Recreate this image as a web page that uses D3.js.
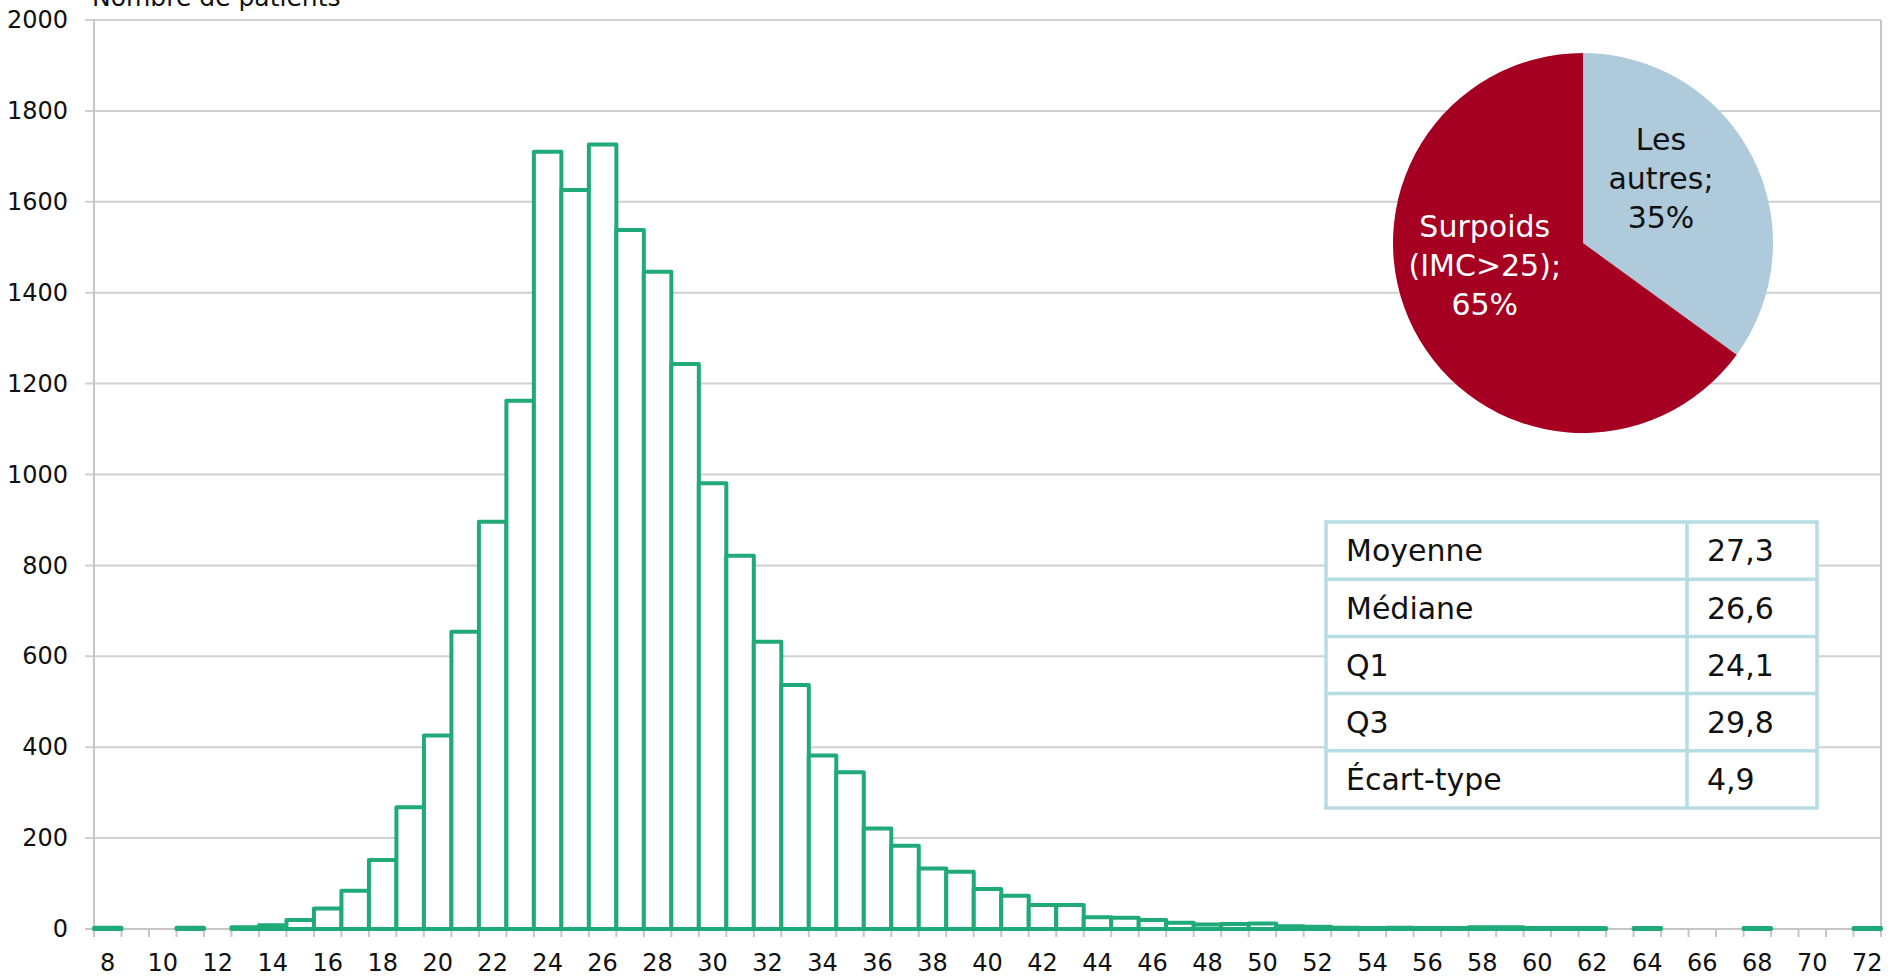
<!DOCTYPE html>
<html>
<head>
<meta charset="utf-8">
<script src="https://cdn.jsdelivr.net/npm/d3@7"></script>
<style>
  html, body { margin: 0; padding: 0; background: #ffffff; }
  svg { display: block; font-family: "DejaVu Sans", sans-serif; }
</style>
</head>
<body>
<svg id="chart" width="1896" height="977"></svg>
<script>
// ---------------- DATA ----------------
const categories = d3.range(8, 73); // IMC classes 8..72
const patientCounts = [
  3, 0, 0, 3, 0, 4, 8, 20, 45, 84,          // 8-17
  152, 268, 426, 654, 896, 1162, 1710, 1626, 1726, 1538, // 18-27
  1446, 1243, 981, 821, 632, 537, 382, 345, 221, 183,    // 28-37
  133, 126, 88, 73, 53, 53, 26, 25, 20, 14,              // 38-47
  10, 11, 12, 6, 5, 3, 2, 3, 2, 2,                       // 48-57
  4, 4, 2, 2, 2, 0, 2, 0, 0, 0,                          // 58-67
  2, 0, 0, 0, 2                                          // 68-72
];
const xTickLabels = d3.range(8, 73, 2);
const yTickValues = d3.range(0, 2001, 200);
const yAxisTitle = "Nombre de patients";

const pieLabelLines = [["Les", "autres;", "35%"], ["Surpoids", "(IMC>25);", "65%"]];
const pieValues = [35, 65];
const pieColors = ["#aecadb", "#a50021"];
const pieTextColors = ["#111111", "#ffffff"];

const statLabels = ["Moyenne", "Médiane", "Q1", "Q3", "Écart-type"];
const statValues = ["27,3", "26,6", "24,1", "29,8", "4,9"];

// ---------------- LAYOUT ----------------
const svg = d3.select("#chart");
const plot = { left: 94, right: 1881, top: 20, bottom: 929 };
const green = "#1faa78";
const gridColor = "#d0d0d0";
const axisColor = "#c6c6c6";
const tickFont = 24;

const x = d3.scaleBand().domain(categories).range([plot.left, plot.right]).padding(0);
const y = d3.scaleLinear().domain([0, 2000]).range([plot.bottom, plot.top]);

// gridlines
svg.append("g").selectAll("line")
  .data(yTickValues.filter(v => v > 0))
  .join("line")
  .attr("x1", plot.left - 9).attr("x2", plot.right)
  .attr("y1", d => y(d)).attr("y2", d => y(d))
  .attr("stroke", gridColor).attr("stroke-width", 2);

// left and right vertical lines
svg.append("line").attr("x1", plot.left).attr("x2", plot.left)
  .attr("y1", plot.top).attr("y2", plot.bottom + 8)
  .attr("stroke", axisColor).attr("stroke-width", 2);
svg.append("line").attr("x1", plot.right).attr("x2", plot.right)
  .attr("y1", plot.top).attr("y2", plot.bottom + 8)
  .attr("stroke", axisColor).attr("stroke-width", 2);

// x axis baseline
svg.append("line").attr("x1", plot.left - 9).attr("x2", plot.right)
  .attr("y1", y(0)).attr("y2", y(0))
  .attr("stroke", axisColor).attr("stroke-width", 2);

// category boundary ticks
const boundaries = categories.map(c => x(c)).concat([plot.right]);
svg.append("g").selectAll("line")
  .data(boundaries)
  .join("line")
  .attr("x1", d => d).attr("x2", d => d)
  .attr("y1", y(0)).attr("y2", y(0) + 8)
  .attr("stroke", axisColor).attr("stroke-width", 2);

// x tick labels
const xAxis = d3.axisBottom(x).tickValues(xTickLabels).tickSize(0).tickPadding(25);
const gx = svg.append("g").attr("transform", `translate(0,${y(0)})`).call(xAxis);
gx.select(".domain").remove();
gx.selectAll("text").attr("font-size", tickFont).attr("fill", "#111")
  .attr("font-family", "DejaVu Sans, sans-serif");

// y tick labels
const yAxis = d3.axisLeft(y).tickValues(yTickValues).tickFormat(d3.format("d"))
  .tickSize(0).tickPadding(26);
const gy = svg.append("g").attr("transform", `translate(${plot.left},0)`).call(yAxis);
gy.select(".domain").remove();
gy.selectAll("text").attr("font-size", tickFont).attr("fill", "#111")
  .attr("font-family", "DejaVu Sans, sans-serif");

// axis title (partly outside the top edge, as in the reference)
svg.append("text").attr("x", 92).attr("y", 6)
  .attr("font-size", 25).attr("fill", "#111").text(yAxisTitle);

// bars
const barData = categories.map((c, i) => ({ c, v: patientCounts[i] })).filter(d => d.v > 0);
svg.append("g").selectAll("rect")
  .data(barData)
  .join("rect")
  .attr("x", d => x(d.c))
  .attr("y", d => y(d.v))
  .attr("width", x.bandwidth())
  .attr("height", d => y(0) - y(d.v))
  .attr("fill", "#ffffff")
  .attr("stroke", green)
  .attr("stroke-width", 4)
  .attr("stroke-linejoin", "round");

// ---------------- PIE ----------------
const pieCenter = { x: 1583, y: 243 };
const pieR = 190;
const pie = d3.pie().sort(null).value(d => d)(pieValues);
const arc = d3.arc().innerRadius(0).outerRadius(pieR);
const gPie = svg.append("g").attr("transform", `translate(${pieCenter.x},${pieCenter.y})`);
gPie.selectAll("path").data(pie).join("path")
  .attr("d", arc).attr("fill", (d, i) => pieColors[i]);

const labelRadii = [0.534, 0.53];
const labelAngleShift = [-0.223, 0.25];
const lineH = 39;
pie.forEach((p, i) => {
  const a = (p.startAngle + p.endAngle) / 2 + labelAngleShift[i];
  const r = pieR * labelRadii[i];
  const cx = Math.sin(a) * r, cy = -Math.cos(a) * r;
  const lines = pieLabelLines[i];
  const t = gPie.append("text")
    .attr("text-anchor", "middle")
    .attr("font-size", 30)
    .attr("fill", pieTextColors[i]);
  lines.forEach((ln, k) => {
    t.append("tspan").attr("x", cx)
      .attr("y", cy + (k - (lines.length - 1) / 2) * lineH)
      .attr("dy", "0.35em").text(ln);
  });
});

// ---------------- TABLE ----------------
const tbl = { x: 1326, y: 522, w: 491, rowH: 57.2, col1: 361 };
const tblColor = "#b5dde2";
const gT = svg.append("g");
gT.append("rect").attr("x", tbl.x).attr("y", tbl.y)
  .attr("width", tbl.w).attr("height", tbl.rowH * statLabels.length)
  .attr("fill", "#ffffff").attr("stroke", tblColor).attr("stroke-width", 3.5);
statLabels.forEach((lab, i) => {
  const ry = tbl.y + i * tbl.rowH;
  if (i > 0) {
    gT.append("line").attr("x1", tbl.x).attr("x2", tbl.x + tbl.w)
      .attr("y1", ry).attr("y2", ry)
      .attr("stroke", tblColor).attr("stroke-width", 3.5);
  }
  gT.append("text").attr("x", tbl.x + 20).attr("y", ry + tbl.rowH / 2)
    .attr("dy", "0.36em").attr("font-size", 30).attr("fill", "#111").text(lab);
  gT.append("text").attr("x", tbl.x + tbl.col1 + 20).attr("y", ry + tbl.rowH / 2)
    .attr("dy", "0.36em").attr("font-size", 30).attr("fill", "#111").text(statValues[i]);
});
gT.append("line").attr("x1", tbl.x + tbl.col1).attr("x2", tbl.x + tbl.col1)
  .attr("y1", tbl.y).attr("y2", tbl.y + tbl.rowH * statLabels.length)
  .attr("stroke", tblColor).attr("stroke-width", 3.5);
</script>
</body>
</html>
